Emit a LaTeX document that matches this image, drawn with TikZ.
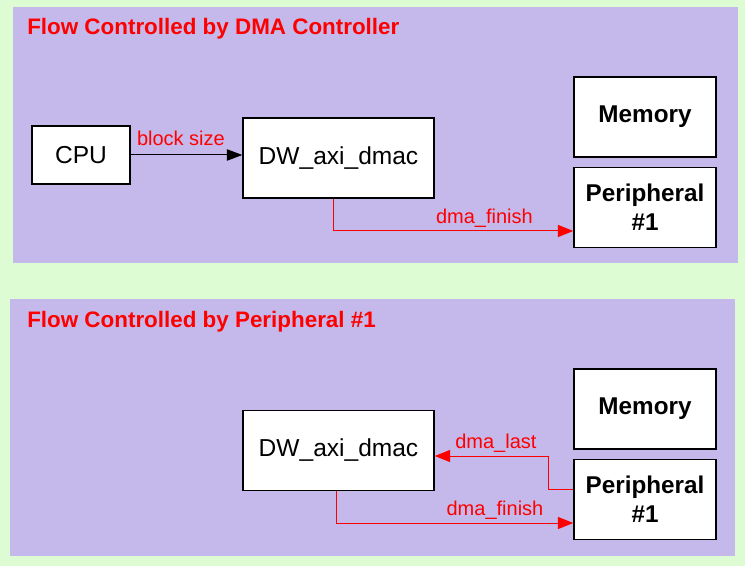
\documentclass[tikz,border=0pt]{standalone}
\usepackage{fontspec}
\setmainfont{Liberation Sans}
\usetikzlibrary{arrows.meta}
\definecolor{bggreen}{HTML}{DDFCD3}
\definecolor{panelpurple}{HTML}{C4B9EA}
\begin{document}
\begin{tikzpicture}
    [x=0.75pt,y=-0.75pt,
    unit/.style={draw,fill=white,line width=1.1pt,inner sep=0pt,align=center,
        font=\fontsize{18.4}{21.75}\selectfont},
    store/.style={unit,font=\bfseries\fontsize{18.2}{21.75}\selectfont,
        minimum width=106.5pt,minimum height=60pt},
    dmacbox/.style={unit,minimum width=143.25pt,minimum height=60pt},
    sig/.style={red,line width=0.75pt,-{Triangle[length=11.5pt,width=9pt]}},
    siglabel/.style={red,font=\fontsize{15}{18}\selectfont,inner sep=0pt,above=2.5pt},
    paneltitle/.style={red,font=\bfseries\fontsize{16.8}{20}\selectfont,
        anchor=base west,inner sep=0pt}]
    %background and panels
    \fill[bggreen] (0,0) rectangle (745,566);
    \fill[panelpurple] (13,7) rectangle (738,263);
    \fill[panelpurple] (10,299) rectangle (735,556);
    %upper panel
    \node[paneltitle] (titleA) at (27,35) {Flow Controlled by DMA Controller};
    \node[unit,minimum width=73.5pt,minimum height=43.5pt] (cpu) at (81,155) {CPU};
    \node[dmacbox] (dmacA) at (338.5,158) {DW\_axi\_dmac};
    \node[store] (memA) at (645,117) {Memory};
    \node[store] (perA) at (645,207.5) {Peripheral\\\#1};
    \coordinate (finA) at (333,231);
    \draw[line width=0.75pt,-{Triangle[length=11.5pt,width=8.5pt]}] (cpu.east) -- (cpu.east -| dmacA.west)
    node[siglabel,pos=.45,above=4pt]{block size};
    \draw[sig] (dmacA.south -| finA) -- (finA) -- (finA -| perA.west)
    node[siglabel,pos=.63]{dma\_finish};
    %lower panel
    \node[paneltitle] (titleB) at (27,327) {Flow Controlled by Peripheral \#1};
    \node[dmacbox] (dmacB) at (338.5,450.5) {DW\_axi\_dmac};
    \node[store] (memB) at (645,409) {Memory};
    \node[store] (perB) at (645,499.5) {Peripheral\\\#1};
    \coordinate (tapB) at (548,489);
    \coordinate (lastB) at (548,456);
    \coordinate (finB) at (336,523);
    \draw[sig] (tapB -| perB.west) -- (tapB) -- (lastB) -- (lastB -| dmacB.east)
    node[siglabel,pos=.46]{dma\_last};
    \draw[sig] (dmacB.south -| finB) -- (finB) -- (finB -| perB.west)
    node[siglabel,pos=.67]{dma\_finish};
\end{tikzpicture}
\end{document}
